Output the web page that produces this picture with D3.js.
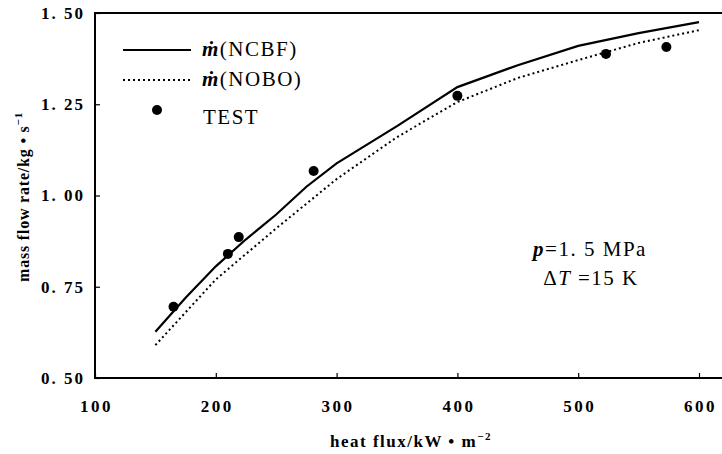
<!DOCTYPE html>
<html>
<head>
<meta charset="utf-8">
<script src="https://cdn.jsdelivr.net/npm/d3@7"></script>
<style>
  body { margin: 0; background: #fff; }
  svg { display: block; }
  text { font-family: "Liberation Serif", "DejaVu Serif", serif; fill: #000; }
</style>
</head>
<body>
<div id="chart"></div>
<script>
// donnees
const fluxNCBF = [150, 175, 200, 225, 250, 275, 300, 350, 400, 450, 500, 550, 600];
const debitNCBF = [0.627, 0.72, 0.806, 0.88, 0.948, 1.024, 1.088, 1.19, 1.297, 1.357, 1.41, 1.445, 1.475];

const fluxNOBO = [150, 200, 250, 300, 350, 400, 450, 500, 550, 600];
const debitNOBO = [0.59, 0.77, 0.91, 1.045, 1.16, 1.256, 1.322, 1.371, 1.418, 1.453];

const fluxTest = [165, 210, 219, 281, 400, 523, 573];
const debitTest = [0.695, 0.84, 0.886, 1.067, 1.273, 1.388, 1.407];

const xTicks = [100, 200, 300, 400, 500, 600];
const yTicks = [0.5, 0.75, 1.0, 1.25, 1.5];

const W = 722, H = 454;
const mLeft = 95, mRight = 699, mTop = 13, mBottom = 378;

const svg = d3.select("#chart").append("svg")
    .attr("width", W)
    .attr("height", H);

// echelles
const x = d3.scaleLinear().domain([100, 600]).range([mLeft, mRight]);
const y = d3.scaleLinear().domain([0.5, 1.5]).range([mBottom, mTop]);

// axes (ticks vers l'interieur)
svg.append("g")
    .attr("transform", "translate(0," + mBottom + ")")
    .call(d3.axisBottom(x).tickValues(xTicks).tickSizeInner(-5).tickSizeOuter(0).tickPadding(22))
    .call(g => g.select(".domain").remove())
    .selectAll("text")
    .attr("dx", 1)
    .style("font-size", "17px")
    .style("font-weight", "bold")
    .style("letter-spacing", "2.5px")
    .style("font-family", "Liberation Serif");

svg.append("g")
    .attr("transform", "translate(" + mLeft + ",0)")
    .call(d3.axisLeft(y).tickValues(yTicks).tickSizeInner(-5).tickSizeOuter(0).tickPadding(10)
        .tickFormat(d => d3.format(".2f")(d).replace(".", ". ")))
    .call(g => g.select(".domain").remove())
    .selectAll("text")
    .style("font-size", "17px")
    .style("font-weight", "bold")
    .style("letter-spacing", "2px")
    .style("font-family", "Liberation Serif");

svg.selectAll(".tick line").attr("stroke-width", 1.2);

// cadre
svg.append("path")
    .attr("d", "M" + W + "," + mTop + "H" + mLeft + "V" + mBottom + "H" + W)
    .attr("fill", "none")
    .attr("stroke", "#000")
    .attr("stroke-width", 2);

// courbes
const ligne = d3.line().x(d => x(d[0])).y(d => y(d[1]));

svg.append("path")
    .datum(d3.zip(fluxNCBF, debitNCBF))
    .attr("fill", "none")
    .attr("stroke", "#000")
    .attr("stroke-width", 2.2)
    .attr("d", ligne);

svg.append("path")
    .datum(d3.zip(fluxNOBO, debitNOBO))
    .attr("fill", "none")
    .attr("stroke", "#000")
    .attr("stroke-width", 2)
    .attr("stroke-dasharray", "2,3")
    .attr("d", ligne);

svg.append("g")
    .selectAll("circle")
    .data(d3.zip(fluxTest, debitTest))
    .enter()
    .append("circle")
    .attr("cx", d => x(d[0]))
    .attr("cy", d => y(d[1]))
    .attr("r", 5)
    .attr("fill", "#000");

// legende
const leg = svg.append("g");
leg.append("line").attr("x1", 123).attr("x2", 191).attr("y1", 50).attr("y2", 50)
    .attr("stroke", "#000").attr("stroke-width", 2.2);
leg.append("line").attr("x1", 123).attr("x2", 191).attr("y1", 80).attr("y2", 80)
    .attr("stroke", "#000").attr("stroke-width", 2).attr("stroke-dasharray", "2,3");
leg.append("circle").attr("cx", 157).attr("cy", 110).attr("r", 5).attr("fill", "#000");

function labelM(yy, txt) {
    const t = leg.append("text").attr("x", 202).attr("y", yy)
        .style("font-size", "21px").style("letter-spacing", "1.5px");
    t.append("tspan").text("ṁ").style("font-style", "italic").style("font-weight", "bold");
    t.append("tspan").text("(" + txt + ")");
}
labelM(56, "NCBF");
labelM(86, "NOBO");
leg.append("text").attr("x", 203).attr("y", 124).text("TEST")
    .style("font-size", "21px").style("letter-spacing", "1.5px");

// annotations
const ann1 = svg.append("text").attr("x", 590).attr("y", 256).attr("text-anchor", "middle")
    .style("font-size", "21px").style("letter-spacing", "1.5px");
ann1.append("tspan").text("p").style("font-style", "italic").style("font-weight", "bold");
ann1.append("tspan").text("=1. 5 MPa");
const ann2 = svg.append("text").attr("x", 591).attr("y", 285).attr("text-anchor", "middle")
    .style("font-size", "21px").style("letter-spacing", "1.5px");
ann2.append("tspan").text("Δ");
ann2.append("tspan").text("T ").style("font-style", "italic");
ann2.append("tspan").text("=15 K");

// titres des axes
const xl = svg.append("text").attr("x", 411).attr("y", 447).attr("text-anchor", "middle")
    .style("font-size", "17px").style("font-weight", "bold").style("letter-spacing", "1.5px");
xl.append("tspan").text("heat flux/kW • m");
xl.append("tspan").text("−2").attr("dy", -7).style("font-size", "11px");

const yl = svg.append("text")
    .attr("transform", "translate(29,197) rotate(-90)")
    .attr("text-anchor", "middle")
    .style("font-size", "16px").style("font-weight", "bold").style("letter-spacing", "0.8px");
yl.append("tspan").text("mass flow rate/kg • s");
yl.append("tspan").text("−1").attr("dy", -7).style("font-size", "11px");
</script>
</body>
</html>
